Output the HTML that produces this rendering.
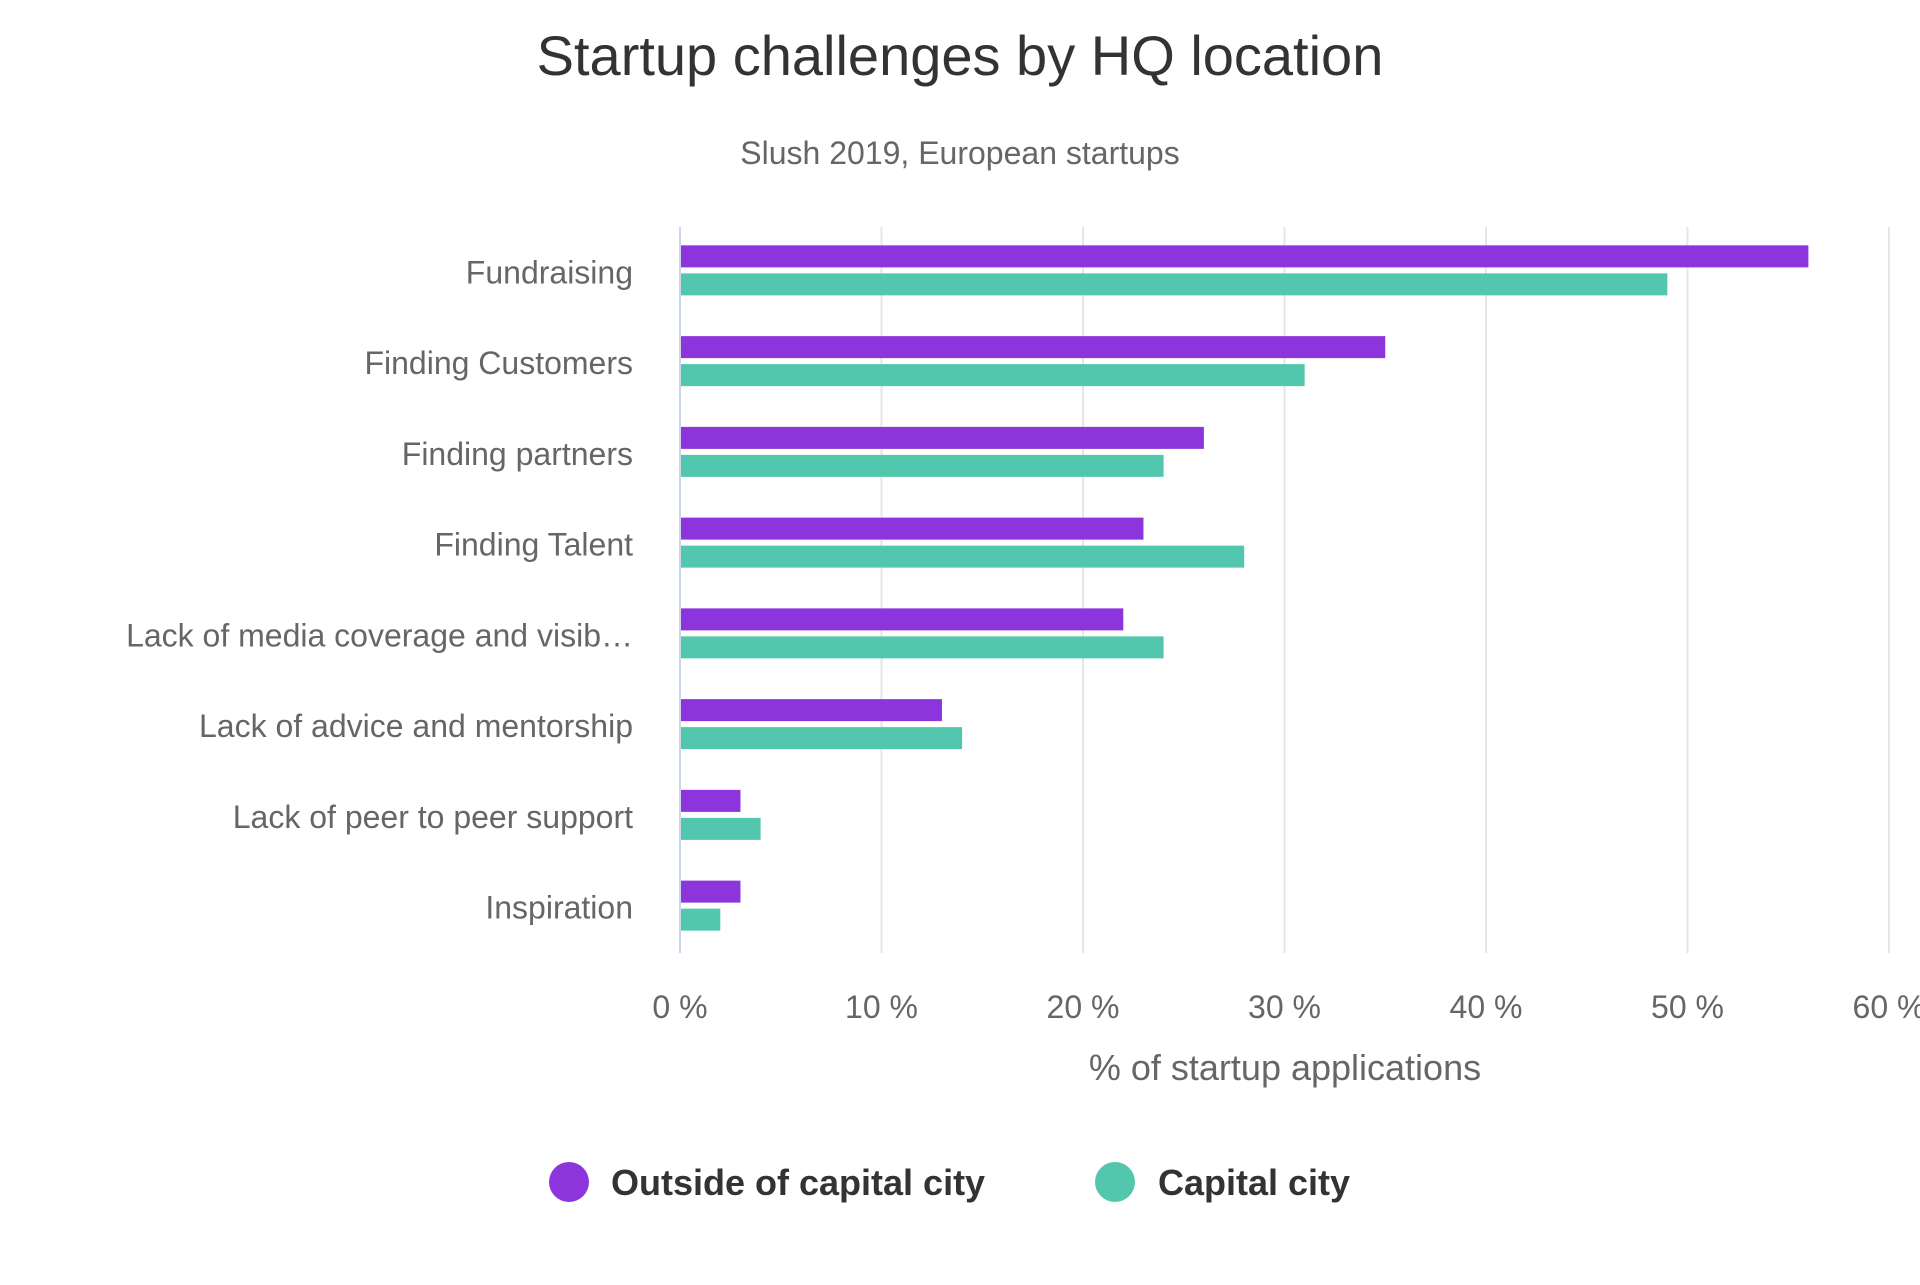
<!DOCTYPE html>
<html><head><meta charset="utf-8"><style>
body{margin:0;background:#fff;font-family:"Liberation Sans",sans-serif;}
</style></head><body>
<svg width="1920" height="1280" xmlns="http://www.w3.org/2000/svg">
<text x="960" y="75" text-anchor="middle" font-size="56" fill="#333">Startup challenges by HQ location</text>
<text x="960" y="164" text-anchor="middle" font-size="32" fill="#666">Slush 2019, European startups</text>
<g id="grid"></g><g id="bars"></g><g id="labels"></g>
<text x="1285" y="1080" text-anchor="middle" font-size="36" fill="#666">% of startup applications</text>
<g>
<g><circle cx="569" cy="1182" r="20" fill="#8c35dc"/><text x="611" y="1195" font-size="36" font-weight="bold" fill="#333">Outside of capital city</text></g>
<g><circle cx="1115" cy="1182" r="20" fill="#53c6ae"/><text x="1158" y="1195" font-size="36" font-weight="bold" fill="#333">Capital city</text></g>
</g>
</svg>
<script>
const categories=["Fundraising","Finding Customers","Finding partners","Finding Talent","Lack of media coverage and visib…","Lack of advice and mentorship","Lack of peer to peer support","Inspiration"];
const outsideValues=[56,35,26,23,22,13,3,3];
const capitalValues=[49,31,24,28,24,14,4,2];
const tickValues=[0,10,20,30,40,50,60];
const tickLabels=["0 %","10 %","20 %","30 %","40 %","50 %","60 %"];
const NS="http://www.w3.org/2000/svg";
const x0=680,x1=1889,yTop=227,yBot=953,xMax=60;
const xs=v=>x0+(x1-x0)*v/xMax;
const band=(yBot-yTop)/categories.length;
const bandY=i=>yTop+band*i;
function mk(tag,attrs,parent){const e=document.createElementNS(NS,tag);for(const k in attrs)e.setAttribute(k,attrs[k]);parent.appendChild(e);return e;}
const grid=document.getElementById('grid'),bars=document.getElementById('bars'),labels=document.getElementById('labels');
tickValues.forEach((v,i)=>{
 const l=mk('line',{x1:xs(v),x2:xs(v),y1:yTop,y2:yBot,stroke:i===0?'#ccd6eb':'#e6e6e6','stroke-width':2},grid);
 
 
 const t=mk('text',{x:xs(v),y:1018,'text-anchor':'middle','font-size':32,fill:'#666'},labels);
 t.textContent=tickLabels[i];
 
 
});
categories.forEach((c,i)=>{
 const cy=bandY(i)+band/2;
 const t=mk('text',{x:633,y:cy+11,'text-anchor':'end','font-size':32,fill:'#666'},labels);
 t.textContent=c;
 
 
 const b1=mk('rect',{x:x0+1,y:cy-27,width:xs(outsideValues[i])-x0-1,height:22,fill:'#8c35dc'},bars);
 
 
 const b2=mk('rect',{x:x0+1,y:cy+1,width:xs(capitalValues[i])-x0-1,height:22,fill:'#53c6ae'},bars);
 
 
});
</script>
</body></html>
